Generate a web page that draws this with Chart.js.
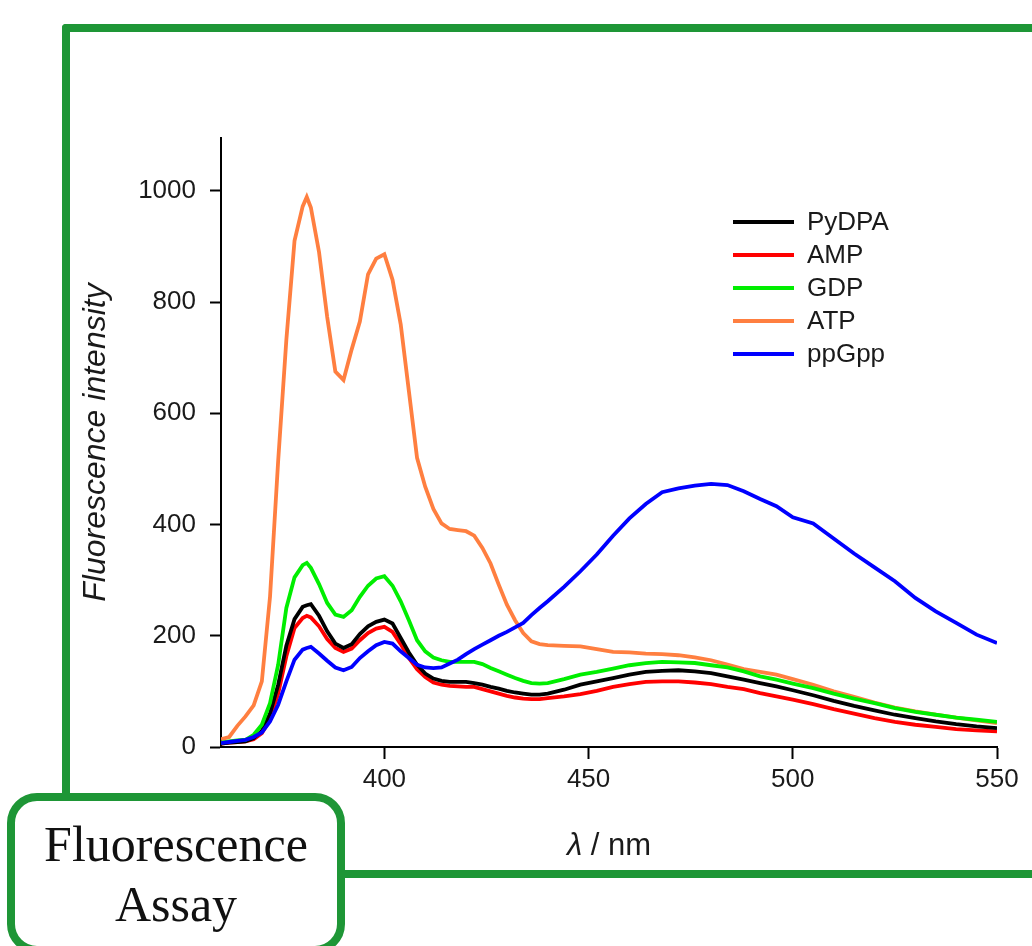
<!DOCTYPE html>
<html>
<head>
<meta charset="utf-8">
<script src="https://cdn.jsdelivr.net/npm/chart.js@4.4.1/dist/chart.umd.min.js"></script>
<style>
  html, body { margin: 0; padding: 0; background: #fff; }
  body { width: 1032px; height: 946px; position: relative; overflow: hidden; }
  #chart { position: absolute; left: 0; top: 0; z-index: 1; }
  .bar { position: absolute; background: #1e9636; z-index: 0; }
  #box {
    position: absolute; left: 7px; top: 793px; width: 322px; height: 145px;
    border: 8px solid #1e9636; border-radius: 30px; background: #fff; z-index: 2;
    font-family: "Liberation Serif", "DejaVu Serif", serif; font-size: 50px;
    line-height: 60px; text-align: center; color: #111;
    display: flex; align-items: center; justify-content: center; padding-top: 0px;
  }
</style>
</head>
<body>
<div class="bar" style="left:62px; top:24px; width:980px; height:8px; border-top-left-radius:4px;"></div>
<div class="bar" style="left:62px; top:24px; width:8px; height:780px; border-top-left-radius:4px;"></div>
<div class="bar" style="left:340px; top:870px; width:700px; height:8px;"></div>
<div id="box">Fluorescence<br>Assay</div>
<canvas id="chart" width="1032" height="946"></canvas>
<script>
// ---- data ----
const wavelength = [360,362,364,366,368,370,372,374,376,378,380,381,382,384,386,388,390,392,394,396,398,400,402,404,406,408,410,412,414,416,418,420,422,424,426,428,430,432,434,436,438,440,444,448,452,456,460,464,468,472,476,480,484,488,492,496,500,505,510,515,520,525,530,535,540,545,550];

const seriesNames = ["PyDPA", "AMP", "GDP", "ATP", "ppGpp"];

const pydpa = [6,8,9,10,16,29,60,112,182,230,252,255,257,236,208,186,178,185,203,217,225,229,222,196,170,148,132,123,119,117,117,117,115,112,108,105,101,98,96,94,94,96,103,112,118,124,130,135,137,138,136,133,127,121,115,109,102,93,83,74,66,58,52,46,41,37,34];

const amp = [6,8,9,10,14,25,50,96,163,214,232,236,233,217,194,178,171,177,192,205,213,216,207,185,160,140,126,116,112,110,109,108,108,104,100,96,92,89,87,86,86,88,91,95,101,108,113,117,118,118,116,113,108,104,97,91,85,77,68,60,52,45,40,36,32,30,28];

const gdp = [8,10,12,13,22,40,79,148,250,305,327,331,322,293,259,238,234,246,270,290,303,307,290,262,228,192,172,161,156,153,153,153,153,149,142,136,130,124,119,115,114,115,122,130,135,141,147,151,153,152,151,147,143,136,127,121,114,106,96,87,79,70,63,58,53,49,45];

const atp = [14,18,38,55,75,118,270,515,732,910,972,989,970,890,773,675,660,715,765,850,878,886,840,760,640,520,468,428,402,392,390,388,380,358,330,292,256,228,205,190,185,183,182,181,176,171,170,168,167,165,161,156,148,140,135,130,122,112,100,90,80,71,64,58,53,48,43];

const ppgpp = [7,9,11,13,18,26,46,76,118,157,175,178,180,168,155,143,138,144,160,172,183,189,186,172,160,148,143,142,143,150,157,167,176,184,192,200,207,215,223,237,250,262,288,316,346,380,411,437,458,465,470,473,471,460,446,433,413,402,375,348,323,298,268,244,223,202,187];

const seriesColors = ["#000000", "#ff0000", "#00ee00", "#ff7f40", "#0000ff"];
const xTickValues = [400, 450, 500, 550];
const yTickValues = [0, 200, 400, 600, 800, 1000];
const xTitleItalic = "\u03bb";
const xTitleRest = " / nm";
const yTitle = "Fluorescence intensity";

// ---- build datasets ----
const seriesValues = [pydpa, amp, gdp, atp, ppgpp];
const drawOrder = [3, 4, 2, 5, 1];
const datasets = seriesNames.map((name, k) => ({
  label: name,
  data: wavelength.map((x, i) => ({ x: x, y: seriesValues[k][i] })),
  borderColor: seriesColors[k],
  backgroundColor: seriesColors[k],
  borderWidth: 3.8,
  pointRadius: 0,
  tension: 0,
  fill: false,
  order: drawOrder[k]
}));

const tickFont = { family: "'Liberation Sans', Arial, sans-serif", size: 26 };
const textColor = "#1a1a1a";

const legendPlugin = {
  id: "insideLegend",
  afterDraw(chart) {
    const ctx = chart.ctx;
    ctx.save();
    ctx.font = "26px 'Liberation Sans', Arial, sans-serif";
    ctx.textBaseline = "middle";
    ctx.textAlign = "left";
    chart.data.datasets.forEach((ds, i) => {
      const y = 222 + i * 33;
      ctx.strokeStyle = ds.borderColor;
      ctx.lineWidth = 4;
      ctx.beginPath();
      ctx.moveTo(733, y);
      ctx.lineTo(794, y);
      ctx.stroke();
      ctx.fillStyle = textColor;
      ctx.fillText(ds.label, 807, y + 1);
    });
    ctx.restore();
  }
};

const xTitlePlugin = {
  id: "xTitle",
  afterDraw(chart) {
    const ctx = chart.ctx;
    const area = chart.chartArea;
    const cx = (area.left + area.right) / 2;
    ctx.save();
    const fi = "italic 31px 'Liberation Sans', Arial, sans-serif";
    const fn = "31px 'Liberation Sans', Arial, sans-serif";
    ctx.font = fi; const w1 = ctx.measureText(xTitleItalic).width;
    ctx.font = fn; const w2 = ctx.measureText(xTitleRest).width;
    let x = cx - (w1 + w2) / 2;
    ctx.textBaseline = "alphabetic";
    ctx.textAlign = "left";
    ctx.fillStyle = textColor;
    ctx.font = fi; ctx.fillText(xTitleItalic, x, 855);
    ctx.font = fn; ctx.fillText(xTitleRest, x + w1, 855);
    ctx.restore();
  }
};

new Chart(document.getElementById("chart"), {
  type: "line",
  data: { datasets: datasets },
  plugins: [legendPlugin, xTitlePlugin],
  options: {
    responsive: false,
    animation: false,
    devicePixelRatio: 1,
    layout: { padding: { left: 77, top: 138, right: 35, bottom: 119 } },
    plugins: { legend: { display: false }, tooltip: { enabled: false }, title: { display: false } },
    scales: {
      x: {
        type: "linear",
        min: 360,
        max: 550,
        afterBuildTicks: (s) => { s.ticks = xTickValues.map(v => ({ value: v })); },
        afterFit: (s) => { s.height = 80; },
        grid: { drawOnChartArea: false, drawTicks: true, tickLength: 12, color: "#000", tickWidth: 2 },
        border: { display: true, color: "#000", width: 2 },
        ticks: { font: tickFont, color: textColor, padding: 5, maxRotation: 0, autoSkip: false,
                 callback: (v) => String(v) },
        title: { display: false }
      },
      y: {
        type: "linear",
        min: 0,
        max: 1095,
        afterBuildTicks: (s) => { s.ticks = yTickValues.map(v => ({ value: v })); },
        afterFit: (s) => { s.width = 144; },
        grid: { drawOnChartArea: false, drawTicks: true, tickLength: 11, color: "#000", tickWidth: 2 },
        border: { display: true, color: "#000", width: 2 },
        ticks: { font: tickFont, color: textColor, padding: 14, autoSkip: false,
                 callback: (v) => String(v) },
        title: {
          display: true,
          text: yTitle,
          color: textColor,
          padding: 0,
          font: { family: "'Liberation Sans', Arial, sans-serif", size: 32, style: "italic" }
        }
      }
    }
  }
});
</script>
</body>
</html>
